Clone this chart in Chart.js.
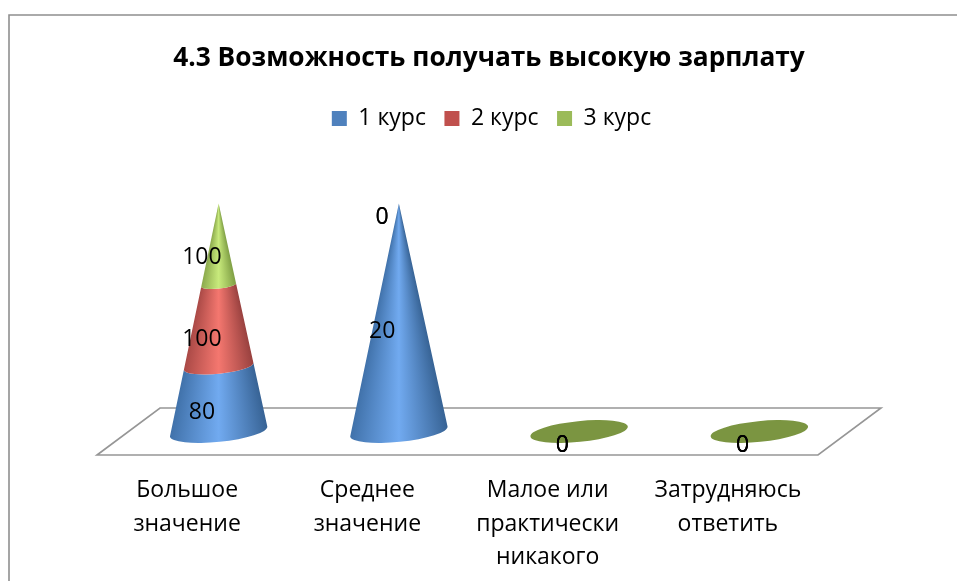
<!DOCTYPE html>
<html>
<head>
<meta charset="utf-8">
<script src="https://cdn.jsdelivr.net/npm/chart.js@4"></script>
<style>
html,body{margin:0;padding:0;background:#fff;overflow:hidden}
#wrap{position:relative;width:957px;height:581px}
canvas{display:block}
</style>
</head>
<body>
<div id="wrap"><canvas id="c"></canvas></div>
<script>
const categories = [['Большое','значение'],['Среднее','значение'],['Малое или','практически','никакого'],['Затрудняюсь','ответить']];
const course1 = [80, 20, 0, 0];
const course2 = [100, 0, 0, 0];
const course3 = [100, 0, 0, 0];
const seriesNames = ['1 курс','2 курс','3 курс'];
const legendColors = ['#4f81bd','#c0504d','#9bbb59'];
const edgeColors = ['#3f70a8','#a84845','#8aa84b'];
const midColors = ['#71aaf0','#f4776f','#c8ea7c'];
const rightColors = ['#386496','#9a4240','#80a045'];
const emptyCap = '#7b9541';
const rawSeries = [course1, course2, course3];
const totals = categories.map((_, i) => rawSeries.reduce((s, a) => s + a[i], 0));
const share = a => a.map((v, i) => totals[i] ? v / totals[i] * 100 : 0);

const FONT = "'Open Sans'";
const DEPTH = {x: 63, y: 47};
const TILT = -5.8 * Math.PI / 180;
const SQUASH = 0.212;

function sectionPath(ctx, x, yLow, rLow, yHigh, rHigh) {
  ctx.beginPath();
  ctx.ellipse(x, yLow, rLow, rLow * SQUASH, TILT, 0, Math.PI, false);
  if (rHigh > 0) {
    ctx.ellipse(x, yHigh, rHigh, rHigh * SQUASH, TILT, Math.PI, 0, true);
  } else {
    ctx.lineTo(x, yHigh);
  }
  ctx.closePath();
}

const conePlugin = {
  id: 'cones',
  afterUpdate(chart) {
    chart.titleBlock.left += 31.5;
    chart.titleBlock.right += 31.5;
    chart.legend.left += 34;
    chart.legend.right += 34;
  },
  beforeDraw(chart) {
    const ctx = chart.ctx;
    ctx.save();
    ctx.fillStyle = '#fff';
    ctx.fillRect(0, 0, chart.width, chart.height);
    ctx.strokeStyle = '#8f8f8f';
    ctx.lineWidth = 1.6;
    ctx.beginPath();
    ctx.moveTo(9, chart.height);
    ctx.lineTo(9, 15);
    ctx.lineTo(chart.width, 15);
    ctx.stroke();
    ctx.restore();
  },
  beforeDatasetsDraw(chart) {
    const ctx = chart.ctx, a = chart.chartArea;
    ctx.save();
    ctx.strokeStyle = '#969696';
    ctx.lineWidth = 1.6;
    ctx.beginPath();
    ctx.moveTo(a.left, a.bottom);
    ctx.lineTo(a.left + DEPTH.x, a.bottom - DEPTH.y);
    ctx.lineTo(a.right + DEPTH.x, a.bottom - DEPTH.y);
    ctx.lineTo(a.right, a.bottom);
    ctx.closePath();
    ctx.stroke();

    const yScale = chart.scales.y;
    const dx = DEPTH.x / 2, dy = DEPTH.y / 2;
    categories.forEach((_, j) => {
      const first = chart.getDatasetMeta(0).data[j];
      const cx = first.x + dx;
      const R = first.width / 2;
      const apex = yScale.getPixelForValue(100) - dy;
      const base = yScale.getPixelForValue(0) - dy;
      if (!totals[j]) {
        ctx.fillStyle = emptyCap;
        ctx.beginPath();
        ctx.ellipse(cx, base, R, R * SQUASH, TILT, 0, Math.PI * 2);
        ctx.fill();
        return;
      }
      rawSeries.forEach((__, d) => {
        const bar = chart.getDatasetMeta(d).data[j];
        if (Math.abs(bar.base - bar.y) < 0.01) return;
        const yLow = bar.base - dy, yHigh = bar.y - dy;
        const rAt = y => R * (y - apex) / (base - apex);
        ctx.save();
        sectionPath(ctx, cx, yLow, rAt(yLow), yHigh, rAt(yHigh));
        ctx.clip();
        const from = Math.floor(yHigh - rAt(yHigh) * 0.3), to = Math.ceil(yLow + rAt(yLow) * 0.3);
        for (let y = from; y < to; y++) {
          const r = Math.max(rAt(y + 0.5), 0.5);
          const g = ctx.createLinearGradient(cx - r, 0, cx + r, 0);
          g.addColorStop(0, edgeColors[d]);
          g.addColorStop(0.5, midColors[d]);
          g.addColorStop(1, rightColors[d]);
          ctx.fillStyle = g;
          ctx.fillRect(cx - R - 2, y, 2 * R + 4, 1);
        }
        ctx.restore();
      });
    });

    ctx.fillStyle = '#000';
    ctx.font = `23px ${FONT}`;
    ctx.textAlign = 'center';
    ctx.textBaseline = 'middle';
    rawSeries.forEach((vals, d) => {
      chart.getDatasetMeta(d).data.forEach((bar, j) => {
        ctx.fillText(String(vals[j]), bar.x + DEPTH.x / 4 - 1, (bar.y + bar.base) / 2 - DEPTH.y / 4 + 2);
      });
    });
    ctx.restore();
    return false;
  }
};

new Chart(document.getElementById('c'), {
  type: 'bar',
  data: {
    labels: categories,
    datasets: seriesNames.map((name, i) => ({
      label: name,
      data: share(rawSeries[i]),
      backgroundColor: legendColors[i],
      categoryPercentage: 1,
      barPercentage: 0.543
    }))
  },
  options: {
    responsive: true,
    maintainAspectRatio: false,
    animation: false,
    layout: {padding: {left: 97, right: 139, top: 0, bottom: 0}},
    scales: {
      x: {
        stacked: true,
        grid: {display: false},
        border: {display: false},
        ticks: {
          autoSkip: false, maxRotation: 0, minRotation: 0, padding: 11, color: '#000',
          font: {family: FONT, size: 23, lineHeight: 1.46}
        },
        afterFit(s) { s.height = 126; }
      },
      y: {stacked: true, display: false, min: 0, max: 100}
    },
    plugins: {
      tooltip: {enabled: false},
      title: {
        display: true,
        text: '4.3 Возможность получать высокую зарплату',
        color: '#000',
        font: {family: FONT, size: 26.3, weight: 'bold'},
        padding: {top: 43, bottom: 14}
      },
      legend: {
        display: true,
        position: 'top',
        labels: {
          boxWidth: 15, boxHeight: 15, padding: 18.5, color: '#000',
          font: {family: FONT, size: 23}
        }
      }
    }
  },
  plugins: [conePlugin, {
    id: 'legendGap',
    beforeInit(chart) {
      const fit = chart.legend.fit;
      chart.legend.fit = function () { fit.call(this); this.height = 138.4; };
    }
  }]
});
</script>
</body>
</html>
